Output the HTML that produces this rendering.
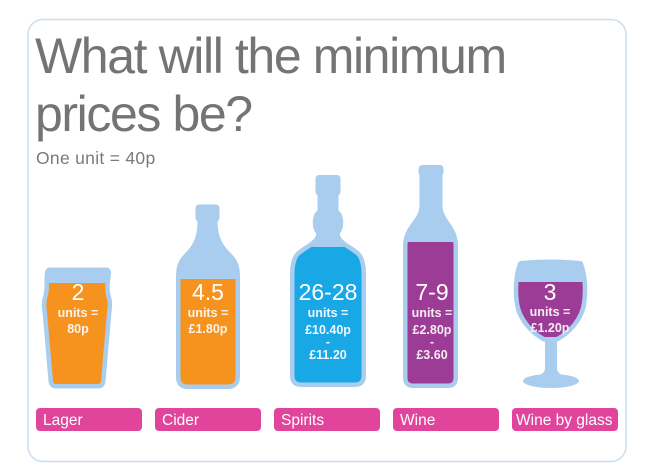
<!DOCTYPE html>
<html><head><meta charset="utf-8"><style>
html,body{margin:0;padding:0;background:#fff;}
svg{display:block;}
text{font-family:"Liberation Sans",sans-serif;}
</style></head><body>
<svg width="649" height="471" viewBox="0 0 649 471" xmlns="http://www.w3.org/2000/svg">
<defs>
<clipPath id="cLager"><rect x="0" y="283" width="649" height="200"/></clipPath>
<clipPath id="cCider"><rect x="0" y="279" width="649" height="200"/></clipPath>
<clipPath id="cSpirits"><rect x="0" y="247" width="649" height="200"/></clipPath>
<clipPath id="cWine"><rect x="0" y="242" width="649" height="200"/></clipPath>
<clipPath id="cGlass"><rect x="0" y="282" width="649" height="200"/></clipPath>
<path id="pLager" d="M50,270 L106,270 Q108.5,270 108.5,273 C108,281 106,286 108,295 C110,302 110,305 109,312 L103,381 Q102.5,386 98,386 L56,386 Q51.5,386 51,381 L45,312 C44,305 44,302 46,295 C48,286 46,281 47.5,273 Q47.5,270 50,270 Z"/>
<path id="pCider" d="M199,207 L216,207 Q217,207 217,208 L217,218 L215,221 C215,240 222,248 230,256 C236,262 237.5,268 237.5,276 L237.5,377 Q237.5,386.5 228,386.5 L187,386.5 Q178.5,386.5 178.5,377 L178.5,276 C178.5,268 180,262 186,256 C194,248 200,240 200,221 L198,218 L198,208 Q198,207 199,207 Z"/>
<path id="pSpirits" d="M319,177.5 L337,177.5 Q338,177.5 338,179 L338,192 L336,195 L336,212 C342,215 342,228 337.5,232 L337.5,236 C340,244 352,248 358,254 C362,258 363.5,265 363.5,275 L363.5,376 Q363.5,384.5 355,384.5 L301,384.5 Q292.5,384.5 292.5,376 L292.5,275 C292.5,265 294,258 298,254 C304,248 316,244 318.5,236 L318.5,232 C314,228 314,215 320,212 L320,195 L318,192 L318,179 Q318,177.5 319,177.5 Z"/>
<path id="pWine" d="M423,167.5 L440,167.5 Q441,167.5 441,169 L441,172 L440,175 L440,205 C440,222 455.5,226 455.5,246 L455.5,378 Q455.5,385.5 448,385.5 L413,385.5 Q405.5,385.5 405.5,378 L405.5,246 C405.5,226 422,222 422,205 L422,175 L421,172 L421,169 Q421,167.5 423,167.5 Z"/>
<path id="pGlass" d="M520.5,263.5 Q550.5,260.5 580.5,263.5 C585,275 585.5,290 584,302 C582,320 568,333 557,339 L544,339 C533,333 519,320 517,302 C515.5,290 516,275 520.5,263.5 Z"/>
</defs>

<rect x="28" y="19.5" width="598" height="442" rx="15" ry="15" fill="#fff" stroke="#c9def0" stroke-width="1.5"/>

<text x="35" y="73" font-size="50" fill="#747474" letter-spacing="-1.4">What will the minimum</text>
<text x="35" y="131" font-size="50" fill="#747474" letter-spacing="-1.4">prices be?</text>
<text x="36" y="164" font-size="17.5" fill="#7a7a7a" letter-spacing="0.3">One unit = 40p</text>

<g stroke-linejoin="round">
<!-- Lager -->
<use href="#pLager" fill="#a9cdee" stroke="#a9cdee" stroke-width="5"/>
<use href="#pLager" fill="#f6921e" clip-path="url(#cLager)"/>
<use href="#pLager" fill="none" stroke="#a9cdee" stroke-width="4"/>
<!-- Cider -->
<use href="#pCider" fill="#a9cdee" stroke="#a9cdee" stroke-width="5"/>
<use href="#pCider" fill="#f6921e" clip-path="url(#cCider)"/>
<use href="#pCider" fill="none" stroke="#a9cdee" stroke-width="4"/>
<!-- Spirits -->
<use href="#pSpirits" fill="#a9cdee" stroke="#a9cdee" stroke-width="5"/>
<use href="#pSpirits" fill="#19a8e6" clip-path="url(#cSpirits)"/>
<use href="#pSpirits" fill="none" stroke="#a9cdee" stroke-width="4"/>
<!-- Wine -->
<use href="#pWine" fill="#a9cdee" stroke="#a9cdee" stroke-width="5"/>
<use href="#pWine" fill="#9d3c96" clip-path="url(#cWine)"/>
<use href="#pWine" fill="none" stroke="#a9cdee" stroke-width="4"/>
<!-- Wine glass -->
<rect x="545" y="335" width="12" height="42" fill="#a9cdee"/>
<path d="M545,368 Q545,376 530,377 L572,377 Q557,376 557,368 Z" fill="#a9cdee"/>
<ellipse cx="551" cy="381" rx="28" ry="7" fill="#a9cdee"/>
<use href="#pGlass" fill="#a9cdee" stroke="#a9cdee" stroke-width="5"/>
<use href="#pGlass" fill="#9d3c96" clip-path="url(#cGlass)"/>
<use href="#pGlass" fill="none" stroke="#a9cdee" stroke-width="4"/>
</g>

<g fill="#fff" text-anchor="middle">
  <text x="78" y="300" font-size="23">2</text>
  <text x="78" y="317" font-size="12.5" font-weight="bold" fill="#fdf3ea">units =</text>
  <text x="78" y="333" font-size="12.5" font-weight="bold" fill="#fdf3ea">80p</text>

  <text x="208" y="300" font-size="23">4.5</text>
  <text x="208" y="317" font-size="12.5" font-weight="bold" fill="#fdf3ea">units =</text>
  <text x="208" y="333" font-size="12.5" font-weight="bold" fill="#fdf3ea">£1.80p</text>

  <text x="328" y="300" font-size="23">26-28</text>
  <text x="328" y="317" font-size="12.5" font-weight="bold" fill="#eef8fd">units =</text>
  <text x="328" y="334" font-size="12.5" font-weight="bold" fill="#eef8fd">£10.40p</text>
  <text x="328" y="346" font-size="12.5" font-weight="bold" fill="#eef8fd">-</text>
  <text x="328" y="359" font-size="12.5" font-weight="bold" fill="#eef8fd">£11.20</text>

  <text x="432" y="300" font-size="23">7-9</text>
  <text x="432" y="317" font-size="12.5" font-weight="bold" fill="#f6ecf5">units =</text>
  <text x="432" y="334" font-size="12.5" font-weight="bold" fill="#f6ecf5">£2.80p</text>
  <text x="432" y="346" font-size="12.5" font-weight="bold" fill="#f6ecf5">-</text>
  <text x="432" y="359" font-size="12.5" font-weight="bold" fill="#f6ecf5">£3.60</text>

  <text x="550" y="300" font-size="23">3</text>
  <text x="550" y="316" font-size="12.5" font-weight="bold" fill="#f6ecf5">units =</text>
  <text x="550" y="332" font-size="12.5" font-weight="bold" fill="#f6ecf5">£1.20p</text>
</g>

<g fill="#e0449b">
  <rect x="36" y="408" width="106" height="23" rx="4"/>
  <rect x="155" y="408" width="106" height="23" rx="4"/>
  <rect x="274" y="408" width="106" height="23" rx="4"/>
  <rect x="393" y="408" width="106" height="23" rx="4"/>
  <rect x="512" y="408" width="106" height="23" rx="4"/>
</g>
<g fill="#fff" font-size="15.5">
  <text x="43" y="425">Lager</text>
  <text x="162" y="425">Cider</text>
  <text x="281" y="425">Spirits</text>
  <text x="400" y="425">Wine</text>
  <text x="516" y="425">Wine by glass</text>
</g>
</svg>
</body></html>
